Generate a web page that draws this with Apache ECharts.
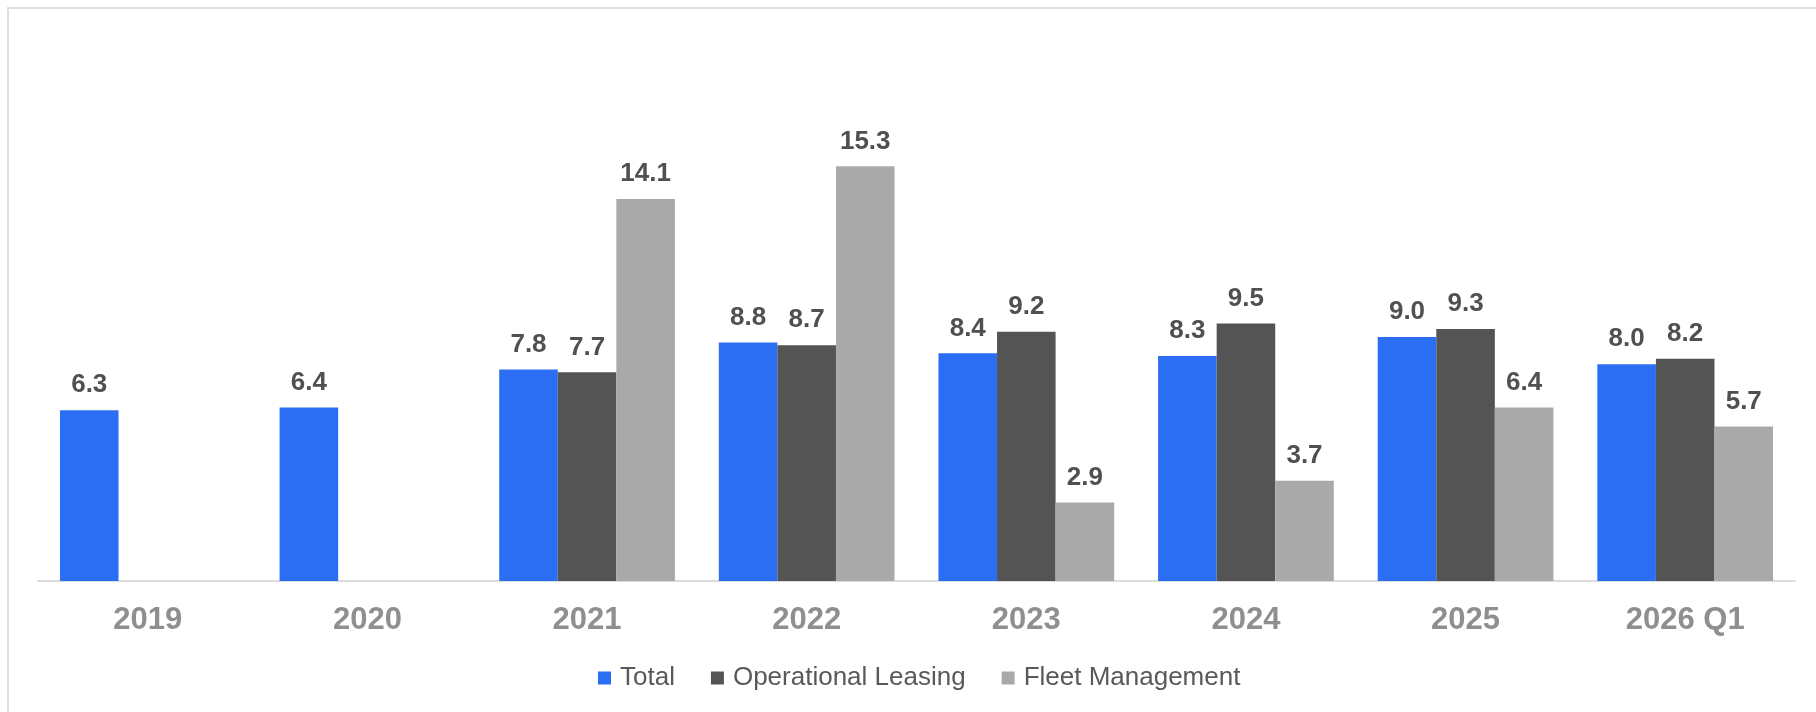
<!DOCTYPE html>
<html>
<head>
<meta charset="utf-8">
<style>
  html, body { margin: 0; padding: 0; background: #fff; }
  #chart { width: 1816px; height: 712px; }
</style>
<script src="https://cdn.jsdelivr.net/npm/echarts@6/dist/echarts.min.js"></script>
</head>
<body>
<div id="chart"></div>
<script>
const categories = ['2019', '2020', '2021', '2022', '2023', '2024', '2025', '2026 Q1']
const total = [6.3, 6.4, 7.8, 8.8, 8.4, 8.3, 9.0, 8.0]
const operationalLeasing = [null, null, 7.7, 8.7, 9.2, 9.5, 9.3, 8.2]
const fleetManagement = [null, null, 14.1, 15.3, 2.9, 3.7, 6.4, 5.7]

const chart = echarts.init(document.getElementById('chart'))

const barLabel = {
  show: true,
  position: 'top',
  distance: 12,
  fontFamily: 'Liberation Sans, Arial, sans-serif',
  fontWeight: 'bold',
  fontSize: 26,
  color: '#505050',
  formatter: p => p.value == null ? '' : p.value.toFixed(1)
}

const option = {
  animation: false,
  graphic: [{
    type: 'rect',
    shape: { x: 8, y: 8, width: 1900, height: 800 },
    style: { fill: 'none', stroke: '#dedede', lineWidth: 2 },
    silent: true
  }],
  legend: {
    left: 593,
    top: 660,
    itemWidth: 13,
    itemHeight: 13,
    itemGap: 36,
    icon: 'rect',
    textStyle: {
      fontFamily: 'Liberation Sans, Arial, sans-serif',
      fontSize: 26,
      color: '#595959',
      padding: [0, 0, 0, 4]
    },
    data: ['Total', 'Operational Leasing', 'Fleet Management']
  },
  grid: {
    left: 38,
    right: 21,
    top: 39,
    bottom: 131
  },
  xAxis: {
    type: 'category',
    data: categories,
    axisLine: { lineStyle: { color: '#dcdcdc', width: 2 } },
    axisTick: { show: false },
    axisLabel: {
      margin: 24,
      fontFamily: 'Liberation Sans, Arial, sans-serif',
      fontWeight: 'bold',
      fontSize: 31,
      color: '#8f8f8f'
    }
  },
  yAxis: {
    type: 'value',
    min: 0,
    max: 20,
    show: false,
    splitLine: { show: false }
  },
  series: [
    {
      name: 'Total',
      type: 'bar',
      data: total,
      barGap: '0%',
      barCategoryGap: '20%',
      itemStyle: { color: '#2b6ef4' },
      label: barLabel
    },
    {
      name: 'Operational Leasing',
      type: 'bar',
      data: operationalLeasing,
      barGap: '0%',
      barCategoryGap: '20%',
      itemStyle: { color: '#545454' },
      label: barLabel
    },
    {
      name: 'Fleet Management',
      type: 'bar',
      data: fleetManagement,
      barGap: '0%',
      barCategoryGap: '20%',
      itemStyle: { color: '#a9a9a9' },
      label: barLabel
    }
  ]
}

chart.setOption(option)
</script>
</body>
</html>
